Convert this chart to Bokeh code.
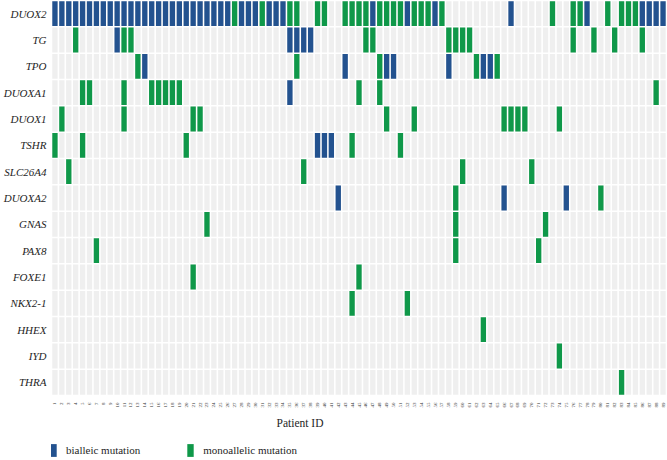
import math
from bokeh.plotting import figure
from bokeh.layouts import column
from bokeh.models import (ColumnDataSource, FactorRange, Range1d, Legend,
                          LegendItem, Label, FixedTicker)
from bokeh.embed import file_html
from bokeh.resources import INLINE

genes = ["DUOX2", "TG", "TPO", "DUOXA1", "DUOX1", "TSHR", "SLC26A4", "DUOXA2",
         "GNAS", "PAX8", "FOXE1", "NKX2-1", "HHEX", "IYD", "THRA"]
patient_ids = list(range(1, 90))

# bialleic / monoallelic mutation carriers (patient IDs) per gene
DUOX2_bi = [1, 2, 3, 4, 5, 6, 7, 8, 9, 10, 11, 12, 13, 14, 15, 16, 17, 18, 19, 20,
            21, 22, 23, 24, 25, 26, 28, 29, 30, 32, 33, 34, 47, 52, 56, 67, 78,
            86, 87, 88, 89]
DUOX2_mono = [27, 31, 35, 36, 39, 40, 43, 44, 45, 46, 48, 49, 50, 51, 53, 54, 55,
              57, 73, 76, 77, 81, 83, 84, 85]
TG_bi = [10, 35, 36, 37, 38]
TG_mono = [4, 11, 12, 46, 47, 58, 59, 60, 61, 76, 79, 82, 86]
TPO_bi = [14, 43, 49, 50, 58, 63, 64]
TPO_mono = [13, 36, 48, 62, 65]
DUOXA1_bi = [35]
DUOXA1_mono = [5, 6, 11, 15, 16, 17, 18, 19, 45, 48, 88]
DUOX1_bi = []
DUOX1_mono = [2, 11, 21, 22, 49, 53, 66, 67, 68, 69, 74]
TSHR_bi = [39, 40, 41]
TSHR_mono = [1, 5, 20, 44, 51]
SLC26A4_bi = []
SLC26A4_mono = [3, 37, 60, 70]
DUOXA2_bi = [42, 66, 75]
DUOXA2_mono = [59, 80]
GNAS_bi = []
GNAS_mono = [23, 59, 72]
PAX8_bi = []
PAX8_mono = [7, 59, 71]
FOXE1_bi = []
FOXE1_mono = [21, 45]
NKX2_1_bi = []
NKX2_1_mono = [44, 52]
HHEX_bi = []
HHEX_mono = [63]
IYD_bi = []
IYD_mono = [74]
THRA_bi = []
THRA_mono = [83]

legend_labels = ["bialleic mutation", "monoallelic mutation"]

bi_lists = [DUOX2_bi, TG_bi, TPO_bi, DUOXA1_bi, DUOX1_bi, TSHR_bi, SLC26A4_bi,
            DUOXA2_bi, GNAS_bi, PAX8_bi, FOXE1_bi, NKX2_1_bi, HHEX_bi, IYD_bi, THRA_bi]
mono_lists = [DUOX2_mono, TG_mono, TPO_mono, DUOXA1_mono, DUOX1_mono, TSHR_mono,
              SLC26A4_mono, DUOXA2_mono, GNAS_mono, PAX8_mono, FOXE1_mono,
              NKX2_1_mono, HHEX_mono, IYD_mono, THRA_mono]

BLUE = "#23528f"
GREEN = "#0f9849"
GRAY = "#efefef"
SERIF = "Liberation Serif"
TXT = "#1e1e1e"

bg = ColumnDataSource(dict(
    x=[pid for g in genes for pid in patient_ids],
    y=[g for g in genes for pid in patient_ids],
))
bi_src = ColumnDataSource(dict(
    x=[pid for g, lst in zip(genes, bi_lists) for pid in lst],
    y=[g for g, lst in zip(genes, bi_lists) for pid in lst],
))
mono_src = ColumnDataSource(dict(
    x=[pid for g, lst in zip(genes, mono_lists) for pid in lst],
    y=[g for g, lst in zip(genes, mono_lists) for pid in lst],
))

FIG_W = 666
p = figure(width=FIG_W, height=410, output_backend="svg", toolbar_location=None,
           x_range=Range1d(0.5, 89.5), y_range=FactorRange(*reversed(genes)),
           min_border_left=0, min_border_right=0, min_border_top=0,
           min_border_bottom=0)
p.outline_line_color = None
p.grid.visible = False

W, H = 0.77, 0.94
p.rect(x="x", y="y", width=W, height=H, source=bg, fill_color=GRAY, line_color=None)
p.rect(x="x", y="y", width=W, height=H, source=bi_src, fill_color=BLUE, line_color=None)
p.rect(x="x", y="y", width=W, height=H, source=mono_src, fill_color=GREEN,
       line_color=None)

# y axis
p.yaxis.axis_line_color = None
p.yaxis.major_tick_line_color = None
p.yaxis.minor_tick_line_color = None
p.yaxis.major_tick_out = 0
p.yaxis.major_tick_in = 0
p.yaxis.minor_tick_out = 0
p.yaxis.major_label_standoff = 5
p.yaxis.major_label_text_font = SERIF
p.yaxis.major_label_text_font_style = "italic"
p.yaxis.major_label_text_font_size = "11px"
p.yaxis.major_label_text_color = TXT

# x axis
p.xaxis.ticker = FixedTicker(ticks=patient_ids)
p.xaxis.axis_line_color = None
p.xaxis.major_tick_line_color = None
p.xaxis.minor_tick_line_color = None
p.xaxis.major_tick_out = 0
p.xaxis.major_tick_in = 0
p.xaxis.minor_tick_out = 0
p.xaxis.major_label_orientation = math.pi / 2
p.xaxis.major_label_standoff = 7
p.xaxis.major_label_text_font = SERIF
p.xaxis.major_label_text_font_size = "5px"
p.xaxis.major_label_text_color = "#333333"

# bottom strip: axis title and legend
leg = figure(width=FIG_W, height=49, output_backend="svg", toolbar_location=None,
             x_range=Range1d(0, 651), y_range=Range1d(0, 40), min_border=0,
             x_axis_location=None, y_axis_location=None)
leg.grid.visible = False
leg.outline_line_color = None
nan = float("nan")
rb = leg.rect(x=[nan], y=[nan], width=1, height=1, fill_color=BLUE, line_color=None)
rm = leg.rect(x=[nan], y=[nan], width=1, height=1, fill_color=GREEN, line_color=None)

leg.add_layout(Label(x=225, y=37, x_units="screen", y_units="screen",
                     text="Patient ID", text_font=SERIF, text_font_size="11.5px",
                     text_color=TXT, text_baseline="middle", text_align="left"))

legend = Legend(items=[LegendItem(label=legend_labels[0], renderers=[rb]),
                       LegendItem(label=legend_labels[1], renderers=[rm])],
                orientation="horizontal", location=(-2, 1),
                glyph_width=8, glyph_height=16, label_standoff=9, spacing=46,
                padding=0, margin=0, border_line_color=None,
                background_fill_alpha=0,
                label_text_font=SERIF, label_text_font_size="11px",
                label_text_baseline="alphabetic",
                label_text_color=TXT)
leg.add_layout(legend, "center")

layout = column(p, leg, spacing=0)
open("out.html", "w").write(file_html(layout, INLINE))
